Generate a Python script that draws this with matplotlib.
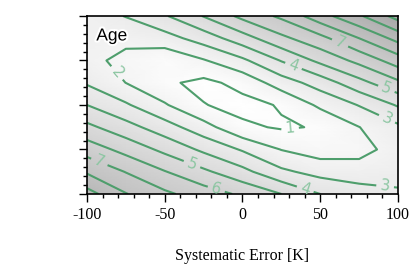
import numpy as np
import matplotlib.pyplot as plt
from matplotlib.colors import LinearSegmentedColormap
from matplotlib.ticker import MultipleLocator, NullFormatter
import matplotlib.patheffects as pe

plt.rcParams['axes.unicode_minus'] = False

# Сетка: систематическая ошибка (ось x) и вторая ось (без подписей)
x_vals = [-100, -75, -50, -25, 0, 25, 50, 75, 100]
y_vals = [4.0, 3.5, 3.0, 2.5, 2.0, 1.5, 1.0, 0.5, 0.0]

# Значения "Age" по строкам сверху вниз
row_40 = [2.5, 3.04, 3.9, 5.05, 6.27, 7.2, 8.6, 9.85, 11.4]
row_35 = [2.35, 2.27, 2.6, 3.45, 4.57, 5.76, 6.7, 8.0, 9.34]
row_30 = [2.3, 1.7, 1.24, 1.92, 2.8, 4.06, 5.25, 6.29, 7.5]
row_25 = [2.89, 1.99, 1.17, 0.75, 1.3, 2.5, 3.44, 4.67, 5.8]
row_20 = [4.0, 3.13, 2.1, 1.04, 0.7, 1.08, 2.2, 3.05, 4.1]
row_15 = [5.25, 4.38, 3.45, 2.4, 1.18, 0.9, 1.07, 1.98, 2.8]
row_10 = [6.56, 5.67, 4.75, 3.8, 2.9, 1.97, 1.52, 1.64, 2.42]
row_05 = [7.87, 6.96, 6.05, 5.2, 4.3, 3.2, 2.64, 2.48, 2.75]
row_00 = [9.4, 8.05, 7.2, 6.5, 5.82, 5.0, 4.0, 3.45, 3.1]

levels = [1, 2, 3, 4, 5, 6, 7, 8, 9, 10, 11]

# Места подписей изолиний
label_pos = [(-80, 2.74), (30.5, 1.51), (32.5, 2.85), (62.7, 3.39),
             (92.3, 2.34), (92.3, 1.64), (91.6, 0.13), (40.2, 0.09),
             (-16.4, 0.16), (-32.5, 0.67), (-91.6, 0.76)]

Z = np.array([row_40, row_35, row_30, row_25, row_20,
              row_15, row_10, row_05, row_00])[::-1]
X, Y = np.meshgrid(x_vals, y_vals[::-1])

fig = plt.figure(figsize=(4.15, 2.73), dpi=100)
ax = fig.add_axes([0.2096, 0.2894, 0.7494, 0.652])

cmap = LinearSegmentedColormap.from_list('grey_age', ['#ffffff', '#a6a6a6'])
ax.pcolormesh(X, Y, Z, shading='gouraud', cmap=cmap, vmin=0.7, vmax=11.4)

cs = ax.contour(X, Y, Z, levels=levels, colors='#4e9e6c', linewidths=1.5)
lbl = ax.clabel(cs, inline=True, fontsize=11, colors='#8cc6a2',
                fmt='%d', manual=label_pos, inline_spacing=4)

ax.text(0.03, 0.93, 'Age', transform=ax.transAxes, fontsize=12.5,
        family='Liberation Sans', va='top', ha='left',
        path_effects=[pe.withStroke(linewidth=3, foreground='white')])

ax.set_xlim(-100, 100)
ax.set_ylim(0, 4)
ax.xaxis.set_major_locator(MultipleLocator(50))
ax.xaxis.set_minor_locator(MultipleLocator(10))
ax.yaxis.set_major_locator(MultipleLocator(1))
ax.yaxis.set_minor_locator(MultipleLocator(0.2))
ax.yaxis.set_major_formatter(NullFormatter())
ax.tick_params(which='both', direction='out', top=False, right=False, width=1, color='black')
ax.tick_params(which='major', length=5.5)
ax.tick_params(which='minor', length=3)
ax.tick_params(axis='x', pad=4)
for lab in ax.get_xticklabels():
    lab.set_family('Liberation Serif')
    lab.set_fontsize(11.5)
for sp in ax.spines.values():
    sp.set_linewidth(1.2)

ax.set_xlabel('Systematic Error [K]', family='Liberation Serif', fontsize=11.5, labelpad=18)

fig.savefig('out.png', dpi=100)
